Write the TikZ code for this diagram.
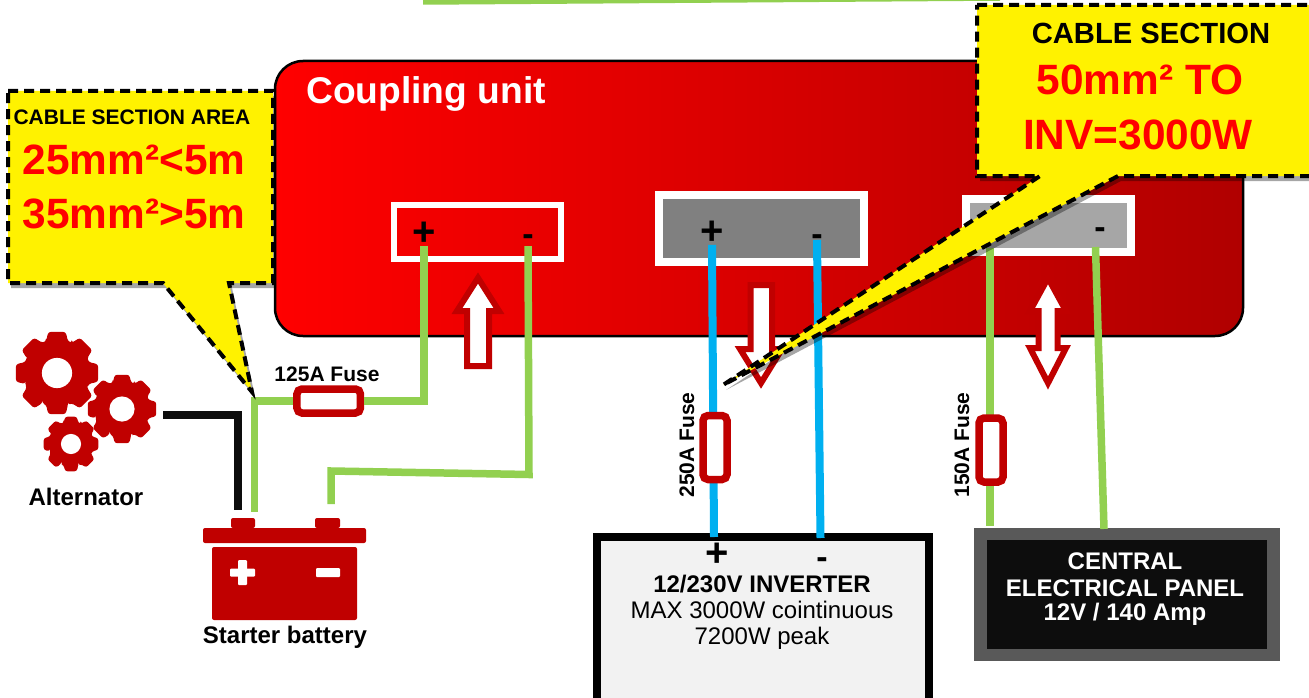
\documentclass[tikz,border=0pt]{standalone}
\usepackage{fontspec}
\setmainfont{Liberation Sans}
\usetikzlibrary{shadows}
\definecolor{wiregreen}{HTML}{92D050}
\definecolor{wireblue}{HTML}{00B0F0}
\definecolor{darkred}{HTML}{C00000}
\definecolor{unitright}{HTML}{B00000}
\tikzset{
  greenwire/.style={draw=wiregreen,line width=7.5pt},
  bluewire/.style={draw=wireblue,line width=8pt},
  blackwire/.style={draw=black!95,line width=8pt},
  portbox/.style={draw=white,inner sep=0pt},
  fusebox/.style={draw=darkred,fill=white,line width=7.5pt,rounded corners=5pt,inner sep=0pt},
  flowarrow/.style={draw=darkred,fill=white,line width=6pt,miter limit=10},
  cutout/.style={draw=black,fill=yellow,line width=4pt,dash pattern=on 10pt off 6pt,
    general shadow={fill=black,opacity=.35,shadow xshift=3pt,shadow yshift=-5pt}},
  textlabel/.style={font=\bfseries\fontsize{21}{21}\selectfont,inner sep=0pt},
  boldtext/.style={font=\bfseries\fontsize{24}{24}\selectfont,inner sep=0pt},
  bodytext/.style={font=\fontsize{24}{24}\selectfont,inner sep=0pt},
  plussign/.style={font=\bfseries\fontsize{40}{40}\selectfont,inner sep=0pt},
  minussign/.style={font=\bfseries\fontsize{34}{34}\selectfont,inner sep=0pt},
  redtext/.style={font=\bfseries\fontsize{42.4}{42.4}\selectfont,text=red,inner sep=0pt},
  gearicon/.pic={
    \fill[darkred,rounded corners=2.5pt] (-26:0.8) \foreach \a in {0,45,...,315} {
      -- (\a-19:0.8) -- (\a-12:1) -- (\a+12:1) -- (\a+19:0.8) -- (\a+26:0.8)} -- cycle;
    \fill[white] (0,0) circle (0.36);
  }
}
\begin{document}
\begin{tikzpicture}[x=1pt,y=-1pt]
\clip (0,0) rectangle (1309,698);

\node[draw=black,line width=2.5pt,rounded corners=28pt,left color=red,right color=unitright,
  minimum width=968pt,minimum height=275pt,inner sep=0pt] (unit) at (759,198.5) {};
\node[font=\bfseries\fontsize{37.2}{37.2}\selectfont,text=white,inner sep=0pt] (unitlabel) at (426,94) {Coupling unit};

\node[portbox,line width=6pt,minimum width=167pt,minimum height=54pt] (porta) at (477.5,232) {};
\node[portbox,fill=black!50,line width=8pt,minimum width=205pt,minimum height=67pt] (portb) at (761.5,228) {};
\node[portbox,fill=black!35,line width=8pt,minimum width=165pt,minimum height=53pt] (portc) at (1048.5,225.5) {};

\node[plussign] (plusa) at (424,234) {+};
\node[minussign] (minusa) at (528,240.5) {-};
\node[plussign] (plusb) at (712,233) {+};
\node[minussign] (minusb) at (817,240) {-};
\node[minussign] (minusc) at (1100,233.5) {-};

\draw[flowarrow] (467,366) -- (467,311) -- (457,311) -- (478,278) -- (499,311) -- (489,311) -- (489,366) -- cycle;
\draw[flowarrow] (750.5,285) -- (750.5,349) -- (740,349) -- (761,383) -- (782,349) -- (772,349) -- (772,285) -- cycle;
\draw[flowarrow] (1038.5,311) -- (1030,311) -- (1048,278) -- (1066,311) -- (1057.5,311) -- (1057.5,348)
  -- (1066,348) -- (1048,383) -- (1030,348) -- (1038.5,348) -- cycle;

\node[draw=black,fill=black!5,line width=7.5pt,minimum width=332pt,minimum height=200pt,inner sep=0pt,anchor=north] (inverter) at (763,533) {};
\node[draw=black!65,fill=black!95,line width=12.5pt,minimum width=293pt,minimum height=121pt,inner sep=0pt] (panel) at (1127,594.5) {};

\coordinate (invplus) at (714,537);
\coordinate (invminus) at (820.5,538);
\coordinate (panela) at (990,526);
\coordinate (panelb) at (1104,529);
\coordinate (portca) at (990,248);
\coordinate (portcb) at (1095.5,247);
\coordinate (battplus) at (254.5,512);
\coordinate (battminus) at (331,504);
\coordinate (alternout) at (163,415);
\coordinate (battblack) at (238,510);
\coordinate (topleft) at (423,1);
\coordinate (topright) at (1000,-3);

\node[fusebox,minimum width=63.5pt,minimum height=24pt] (fusea) at (328.7,401) {};

\draw[greenwire] (topleft) -- (topright);
\draw[greenwire] (plusa.south) |- (fusea.east);
\draw[greenwire] (fusea.west) -| (battplus);
\draw[greenwire] (minusa.south) -- (529,474.5) -- (331,471) -- (battminus);
\draw[blackwire] (alternout) -| (battblack);
\draw[bluewire] (plusb.south) -- (invplus);
\draw[bluewire] (minusb.center) -- (invminus);
\draw[greenwire] (portca) -- (panela);
\draw[greenwire] (portcb) -- (panelb);

\node[fusebox,minimum width=24pt,minimum height=64pt] (fuseb) at (715,447.5) {};
\node[fusebox,minimum width=24pt,minimum height=64pt] (fusec) at (991,450) {};

\node[plussign] (plusinv) at (717.5,555) {+};
\node[minussign] (minusinv) at (822,563) {-};

\path (57,373) pic[scale=42] {gearicon};
\path (122,409) pic[scale=35] {gearicon};
\path (71,444) pic[scale=28] {gearicon};

\fill[darkred,rounded corners=2pt] (231,528) -- (231,518) -- (255,518) -- (255,528) -- cycle;
\fill[darkred,rounded corners=2pt] (315,528) -- (315,518) -- (340,518) -- (340,528) -- cycle;
\fill[darkred,rounded corners=2pt] (203,528) rectangle (366,543);
\fill[darkred,rounded corners=2pt] (212,547) rectangle (357,620);
\fill[white,rounded corners=1pt] (238,560) rectangle (247,585);
\fill[white,rounded corners=1pt] (230,568.5) rectangle (255,576.5);
\fill[white,rounded corners=1pt] (316,568) rectangle (340,577);

\node[boldtext] (alternator) at (86,497) {Alternator};
\node[boldtext] (battery) at (285,637) {Starter battery};
\node[textlabel] (labela) at (327,374) {125A Fuse};
\node[textlabel,rotate=90] (labelb) at (687,445) {250A Fuse};
\node[textlabel,rotate=90] (labelc) at (962,445) {150A Fuse};

\node[boldtext] (invtitle) at (762,584) {12/230V INVERTER};
\node[bodytext] (invmax) at (762,610) {MAX 3000W cointinuous};
\node[bodytext] (invpeak) at (762,638) {7200W peak};

\node[boldtext,text=white] (panelone) at (1125,561) {CENTRAL};
\node[boldtext,text=white] (paneltwo) at (1125,588) {ELECTRICAL PANEL};
\node[boldtext,text=white] (panelthree) at (1125,614) {12V / 140 Amp};

\draw[cutout] (8,91) -- (273,91) -- (273,283) -- (229,283) -- (252,392) -- (163,283) -- (8,283) -- cycle;
\node[textlabel] (cablea) at (132,117) {CABLE SECTION AREA};
\node[redtext] (sizea) at (134,160) {25mm²<5m};
\node[redtext] (sizeb) at (134,214) {35mm²>5m};

\draw[cutout] (977,5) -- (1330,5) -- (1330,176) -- (1118,176) -- (723,385) -- (1040,176) -- (977,176) -- cycle;
\node[font=\bfseries\fontsize{29.2}{29.2}\selectfont,inner sep=0pt] (cableb) at (1151,33) {CABLE SECTION};
\node[redtext] (sizec) at (1140,80) {50mm² TO};
\node[redtext] (sized) at (1138,135) {INV=3000W};
\end{tikzpicture}
\end{document}
